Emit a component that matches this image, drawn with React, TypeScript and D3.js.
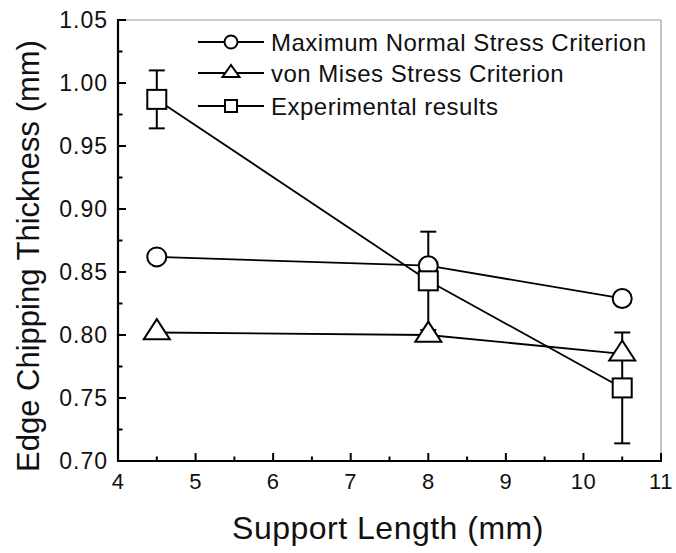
import React from "react";
import * as d3 from "d3";

const supportLength = [4.5, 8, 10.5];
const maxNormal = [0.862, 0.855, 0.829];
const vonMises = [0.802, 0.8, 0.785];
const experimental = [0.987, 0.843, 0.758];
const expError = [0.023, 0.039, 0.044];
const xTicks = [4, 5, 6, 7, 8, 9, 10, 11];
const yTicks = [0.7, 0.75, 0.8, 0.85, 0.9, 0.95, 1.0, 1.05];
const legendLabels = [
  "Maximum Normal Stress Criterion",
  "von Mises Stress Criterion",
  "Experimental results",
];

const W = 676;
const H = 553;
const L = 118, R = 661, T = 20, B = 461;
const FONT = "'Liberation Sans', Arial, Helvetica, sans-serif";

export default function App() {
  const x = d3.scaleLinear().domain([4, 11]).range([L, R]);
  const y = d3.scaleLinear().domain([0.7, 1.05]).range([B, T]);
  const line = d3
    .line<[number, number]>()
    .x((d) => x(d[0]))
    .y((d) => y(d[1]));
  const pts = (vals: number[]) => supportLength.map((s, i) => [s, vals[i]] as [number, number]);

  const xMinor = d3.range(4.5, 11, 1);
  const yMinor = d3.range(0.725, 1.05, 0.05);

  const circle = (cx: number, cy: number, r: number, k: string) => (
    <circle key={k} cx={cx} cy={cy} r={r} fill="white" stroke="black" strokeWidth={2} />
  );
  const square = (cx: number, cy: number, s: number, k: string) => (
    <rect key={k} x={cx - s / 2} y={cy - s / 2} width={s} height={s} fill="white" stroke="black" strokeWidth={2} />
  );
  const tri = (cx: number, cy: number, w: number, h: number, k: string) => (
    <path
      key={k}
      d={`M${cx},${cy - (2 * h) / 3} L${cx + w / 2},${cy + h / 3} L${cx - w / 2},${cy + h / 3} Z`}
      fill="white"
      stroke="black"
      strokeWidth={2}
      strokeLinejoin="miter"
    />
  );

  const legendRows = [42, 73, 106];

  return (
    <svg width={W} height={H} style={{ position: "absolute", left: 0, top: 0, background: "white" }}>
      <rect x={0} y={0} width={W} height={H} fill="white" />
      {/* frame top/right */}
      <line x1={L} x2={R} y1={T} y2={T} stroke="#9a9a9a" strokeWidth={1.2} />
      <line x1={R} x2={R} y1={T} y2={B} stroke="#9a9a9a" strokeWidth={1.2} />

      {/* lines */}
      <path d={line(pts(maxNormal)) || ""} fill="none" stroke="black" strokeWidth={1.8} />
      <path d={line(pts(vonMises)) || ""} fill="none" stroke="black" strokeWidth={1.8} />
      <path d={line(pts(experimental)) || ""} fill="none" stroke="black" strokeWidth={1.8} />

      {/* error bars */}
      {supportLength.map((s, i) => {
        const cx = x(s);
        const y1 = y(experimental[i] + expError[i]);
        const y2 = y(experimental[i] - expError[i]);
        return (
          <g key={"e" + i} stroke="black" strokeWidth={2}>
            <line x1={cx} x2={cx} y1={y1} y2={y2} />
            <line x1={cx - 8} x2={cx + 8} y1={y1} y2={y1} />
            <line x1={cx - 8} x2={cx + 8} y1={y2} y2={y2} />
          </g>
        );
      })}

      {/* markers */}
      {supportLength.map((s, i) => circle(x(s), y(maxNormal[i]), 9.5, "c" + i))}
      {supportLength.map((s, i) => tri(x(s), y(vonMises[i]), 26, 20, "t" + i))}
      {supportLength.map((s, i) => square(x(s), y(experimental[i]), 19, "s" + i))}

      {/* axes */}
      <line x1={L} x2={R + 1} y1={B} y2={B} stroke="black" strokeWidth={2.2} />
      <line x1={L} x2={L} y1={T - 1} y2={B + 1} stroke="black" strokeWidth={2.2} />
      {xTicks.map((t) => (
        <g key={"xt" + t}>
          <line x1={x(t)} x2={x(t)} y1={B} y2={B - 8} stroke="black" strokeWidth={2} />
          <text x={x(t)} y={489} textAnchor="middle" fontSize={22} letterSpacing={0.5} fontFamily={FONT} fill="#111">
            {t}
          </text>
        </g>
      ))}
      {xMinor.map((t) => (
        <line key={"xm" + t} x1={x(t)} x2={x(t)} y1={B} y2={B - 4.5} stroke="black" strokeWidth={2} />
      ))}
      {yTicks.map((t) => (
        <g key={"yt" + t}>
          <line x1={L} x2={L + 8} y1={y(t)} y2={y(t)} stroke="black" strokeWidth={2} />
          <text x={108} y={y(t) + 8} textAnchor="end" fontSize={23} letterSpacing={1} fontFamily={FONT} fill="#111">
            {d3.format(".2f")(t)}
          </text>
        </g>
      ))}
      {yMinor.map((t) => (
        <line key={"ym" + t} x1={L} x2={L + 4.5} y1={y(t)} y2={y(t)} stroke="black" strokeWidth={2} />
      ))}

      {/* axis titles */}
      <text x={388} y={539} textAnchor="middle" fontSize={32} letterSpacing={0.5} fontFamily={FONT} fill="#111">
        Support Length (mm)
      </text>
      <text
        transform="translate(39,256) rotate(-90)"
        textAnchor="middle"
        fontSize={31}
        fontFamily={FONT}
        fill="#111"
      >
        Edge Chipping Thickness (mm)
      </text>

      {/* legend */}
      {legendLabels.map((lab, i) => {
        const cy = legendRows[i];
        return (
          <g key={"lg" + i}>
            <line x1={198} x2={264} y1={cy} y2={cy} stroke="black" strokeWidth={1.8} />
            {i === 0 && circle(231, cy, 6.5, "lc")}
            {i === 1 && tri(231, cy, 17, 12, "lt")}
            {i === 2 && square(231, cy, 12, "ls")}
            <text x={271} y={cy + 8.5} fontSize={24} letterSpacing={0.5} fontFamily={FONT} fill="#111">
              {lab}
            </text>
          </g>
        );
      })}
    </svg>
  );
}
